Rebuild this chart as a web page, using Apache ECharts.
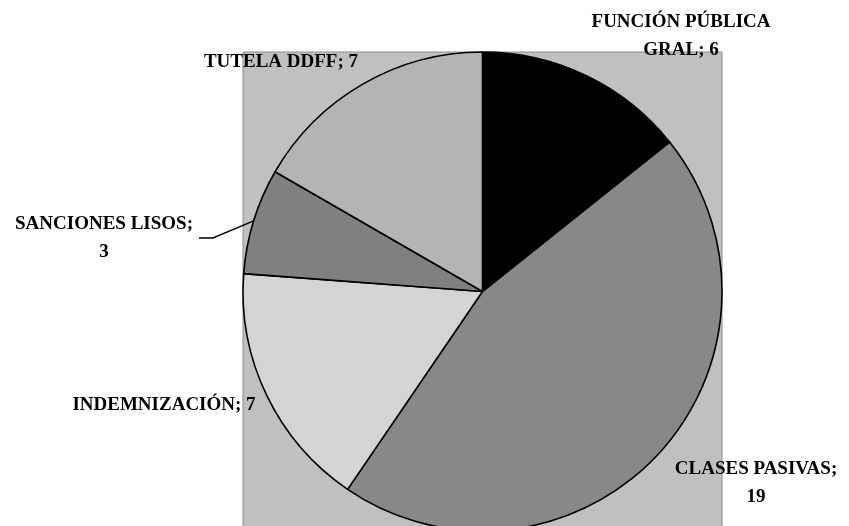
<!DOCTYPE html>
<html>
<head>
<meta charset="utf-8">
<script src="https://cdn.jsdelivr.net/npm/echarts@6/dist/echarts.min.js"></script>
<style>html,body{margin:0;padding:0;background:#fff}#c{width:849px;height:526px}</style>
</head>
<body>
<div id="c"></div>
<script>
// ---- data ----
const categories = ['FUNCIÓN PÚBLICA GRAL', 'CLASES PASIVAS', 'INDEMNIZACIÓN', 'SANCIONES LISOS', 'TUTELA DDFF'];
const values = [6, 19, 7, 3, 7];

// ---- style ----
const colors = ['#000000', '#888888', '#d4d4d4', '#808080', '#b4b4b4'];
const cx = 482.5, cy = 291.5, R = 239.5;
// label text block centres (px) and line-break style
const labelPos = {
  'FUNCIÓN PÚBLICA GRAL': [681, 36],
  'CLASES PASIVAS': [756, 483],
  'INDEMNIZACIÓN': [164, 405],
  'SANCIONES LISOS': [104, 238],
  'TUTELA DDFF': [281, 62]
};
const breakMode = {
  'FUNCIÓN PÚBLICA GRAL': 'beforeLast',
  'CLASES PASIVAS': 'afterName',
  'SANCIONES LISOS': 'afterName'
};

function labelText(name, value) {
  const m = breakMode[name];
  if (m === 'beforeLast') {
    const i = name.lastIndexOf(' ');
    return name.slice(0, i) + '\n' + name.slice(i + 1) + '; ' + value;
  }
  if (m === 'afterName') return name + ';\n' + value;
  return name + '; ' + value;
}

const chart = echarts.init(document.getElementById('c'), null, {renderer: 'canvas'});
chart.setOption({
  animation: false,
  backgroundColor: '#ffffff',
  graphic: [{
    type: 'rect', z: -10, silent: true,
    shape: {x: cx - R, y: cy - R, width: 2 * R, height: 2 * R},
    style: {fill: '#c0c0c0', stroke: '#8c8c8c', lineWidth: 1}
  }],
  series: [{
    type: 'pie',
    center: [cx, cy],
    radius: [0, R],
    startAngle: 90,
    clockwise: true,
    avoidLabelOverlap: false,
    data: categories.map((n, i) => ({
      name: n, value: values[i],
      itemStyle: {color: colors[i]},
      labelLine: {show: n === 'SANCIONES LISOS'}
    })),
    itemStyle: {borderColor: '#000', borderWidth: 1.6},
    label: {
      show: true, position: 'outside',
      formatter: p => labelText(p.name, p.value),
      fontFamily: 'Liberation Serif', fontWeight: 'bold', fontSize: 19,
      lineHeight: 28, color: '#000', align: 'center'
    },
    labelLine: {show: false, length: 10, length2: 10, lineStyle: {color: '#000', width: 1.5}},
    labelLayout: function (params) {
      const name = categories[params.dataIndex];
      const pos = labelPos[name];
      const res = {x: pos[0], y: pos[1], align: 'center', verticalAlign: 'middle'};
      if (name === 'SANCIONES LISOS' && params.labelLinePoints) {
        const w = params.labelRect.width;
        const rx = pos[0] + w / 2 + 6;
        const p0 = params.labelLinePoints[0];
        res.labelLinePoints = [p0, [rx + 14, pos[1]], [rx, pos[1]]];
      }
      return res;
    },
    emphasis: {disabled: true}
  }]
});
</script>
</body>
</html>
